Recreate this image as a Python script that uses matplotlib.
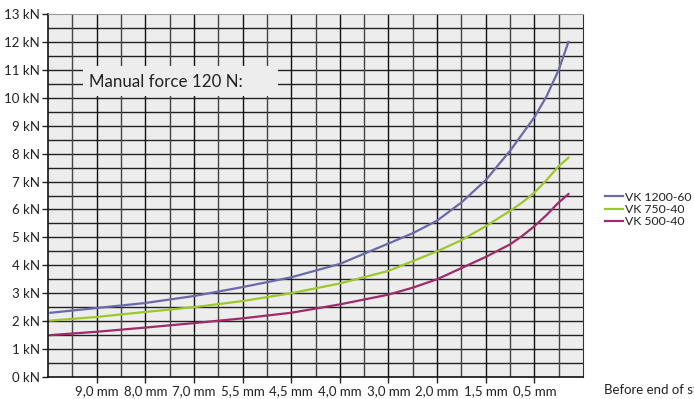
import matplotlib.pyplot as plt
from matplotlib.patches import Rectangle
import numpy as np

# x positions on the grid (cells), tick labels at every second cell
x_pos = [0.1, 2, 4, 6, 8, 10, 12, 14, 15, 16, 17, 18, 19, 19.5, 20, 20.5, 21, 21.4]
tick_pos = [2, 4, 6, 8, 10, 12, 14, 16, 18, 20]
tick_labels = ["9,0 mm", "8,0 mm", "7,0 mm", "5,5 mm", "4,5 mm",
               "4,0 mm", "3,0 mm", "2,0 mm", "1,5 mm", "0,5 mm"]

vk1200 = [2.3, 2.47, 2.65, 2.9, 3.22, 3.57, 4.05, 4.78, 5.15, 5.6, 6.25, 7.05, 8.1, 8.7, 9.3, 10.05, 11.0, 12.0]
vk750 = [2.02, 2.15, 2.33, 2.5, 2.72, 3.0, 3.35, 3.8, 4.15, 4.5, 4.9, 5.4, 5.95, 6.25, 6.6, 7.05, 7.55, 7.85]
vk500 = [1.5, 1.62, 1.77, 1.93, 2.1, 2.3, 2.6, 2.95, 3.2, 3.5, 3.9, 4.3, 4.75, 5.05, 5.4, 5.8, 6.25, 6.55]

plt.rcParams['font.family'] = ['Lato', 'DejaVu Sans']

fig = plt.figure(figsize=(6.94, 3.99), dpi=100)
ax = fig.add_axes([48/694, 22/399, 535/694, 363/399])
ax.set_facecolor('#ededed')
ax.set_xlim(0, 22)
ax.set_ylim(0, 13)

# grid
for y in np.arange(0.5, 13, 0.5):
    ax.axhline(y, color='#222222', lw=1.0, zorder=1)
for x in range(1, 22):
    ax.axvline(x, color='#444444' if x % 2 else '#111111', lw=1.0, zorder=1)

ax.plot(x_pos, vk1200, color='#6a6aaa', lw=1.6, label='VK 1200-60', zorder=3)
ax.plot(x_pos, vk750, color='#9cc828', lw=1.6, label='VK 750-40', zorder=3)
ax.plot(x_pos, vk500, color='#a02a6a', lw=1.6, label='VK 500-40', zorder=3)

ax.set_yticks(range(0, 14))
ax.set_yticklabels([f"{i} kN" for i in range(0, 14)], fontsize=9.5, color='#222222')
ax.set_xticks(tick_pos)
ax.set_xticklabels(tick_labels, fontsize=9.5, color='#222222')
ax.tick_params(axis='both', direction='out', length=4, width=1, color='#222222', pad=2)

for s in ['left', 'bottom']:
    ax.spines[s].set_color('#111111')
    ax.spines[s].set_linewidth(1.2)
ax.spines['top'].set_color('#999999')
ax.spines['right'].set_color('#333333')

# label box
ax.add_patch(Rectangle((1.44, 10.05), 8.02, 1.1, fc='#ededed', ec='none', zorder=2))
ax.text(1.68, 10.55, "Manual force 120 N:", fontsize=12.2, color='#222222',
        va='center', ha='left', zorder=4)

leg = ax.legend(loc='center left', bbox_to_anchor=(1.03, 0.462), frameon=False, fontsize=8.8,
                handlelength=1.5, handletextpad=0.1, labelspacing=0.1, borderpad=0)
for t in leg.get_texts():
    t.set_color('#222222')

# axis caption runs off the right edge, as in the original
fig.text(604/694, 9/399, "Before end of stroke", fontsize=9.5, color='#222222', va='center', ha='left')

fig.savefig('out.png', dpi=100)
